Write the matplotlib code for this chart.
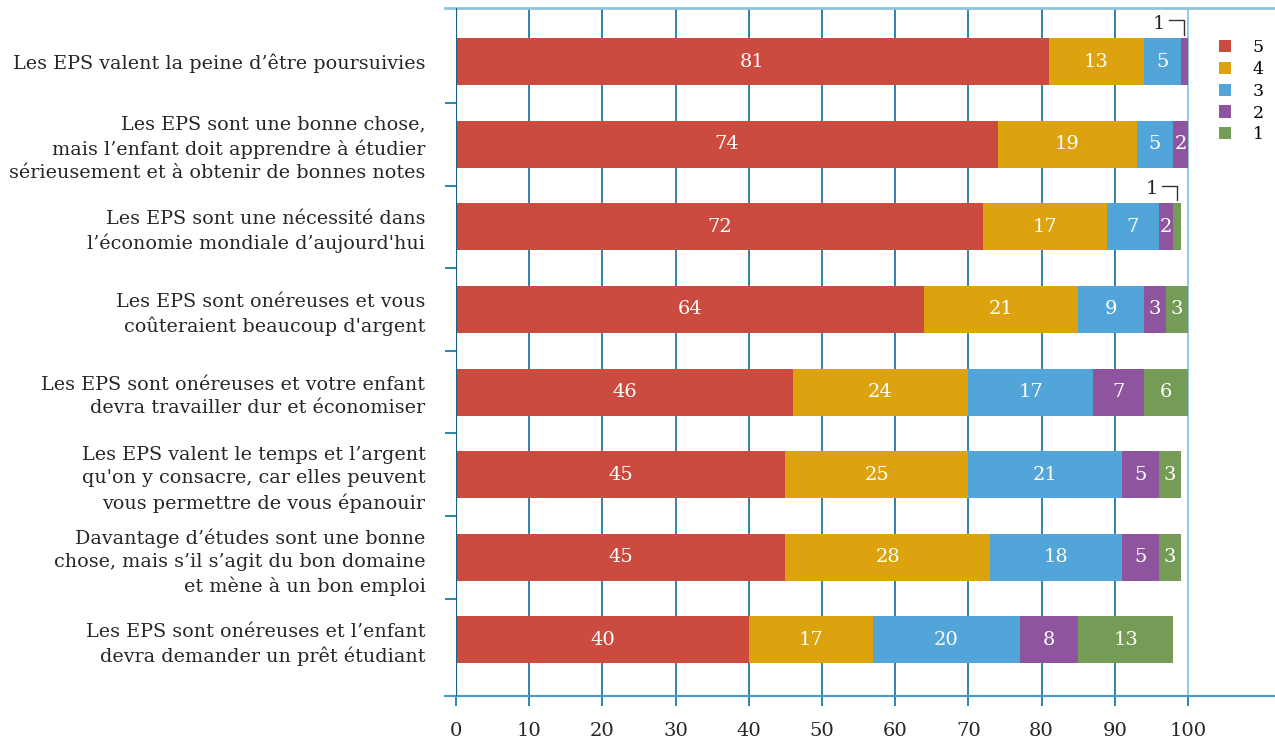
import matplotlib
matplotlib.use("Agg")
import matplotlib.pyplot as plt
import numpy as np

categories = [
    "Les EPS valent la peine d’être poursuivies",
    "Les EPS sont une bonne chose,\nmais l’enfant doit apprendre à étudier\nsérieusement et à obtenir de bonnes notes",
    "Les EPS sont une nécessité dans\nl’économie mondiale d’aujourd'hui",
    "Les EPS sont onéreuses et vous\ncoûteraient beaucoup d'argent",
    "Les EPS sont onéreuses et votre enfant\ndevra travailler dur et économiser",
    "Les EPS valent le temps et l’argent\nqu'on y consacre, car elles peuvent\nvous permettre de vous épanouir",
    "Davantage d’études sont une bonne\nchose, mais s’il s’agit du bon domaine\net mène à un bon emploi",
    "Les EPS sont onéreuses et l’enfant\ndevra demander un prêt étudiant",
]
series_names = ["5", "4", "3", "2", "1"]
s5 = [81, 74, 72, 64, 46, 45, 45, 40]
s4 = [13, 19, 17, 21, 24, 25, 28, 17]
s3 = [5, 5, 7, 9, 17, 21, 18, 20]
s2 = [1, 2, 2, 3, 7, 5, 5, 8]
s1 = [0, 0, 1, 3, 6, 3, 3, 13]
xticks = [0, 10, 20, 30, 40, 50, 60, 70, 80, 90, 100]

colors = ["#CC4B3F", "#DCA30F", "#52A5D8", "#8E559E", "#759C57"]
dark = "#1F78A8"
light = "#8CC4DC"
FONT = "DejaVu Serif"
plt.rcParams["font.family"] = FONT
TXT = "#262626"

fig = plt.figure(figsize=(12.75, 7.44), dpi=100)
ax = fig.add_axes([456/1275, 1-696/744, 1-456/1275, (696-8)/744])

data = [s5, s4, s3, s2, s1]
y = np.arange(len(categories))
left = np.zeros(len(categories))
for vals, col, name in zip(data, colors, series_names):
    vals = np.array(vals, dtype=float)
    ax.barh(y, vals, left=left, height=0.57, color=col, label=name, zorder=3)
    for yi, (l, v) in enumerate(zip(left, vals)):
        if v >= 2:
            ax.text(l + v/2, yi, f"{int(v)}", ha="center", va="center",
                    color="white", fontsize=14, zorder=4)
        elif v == 1:
            xe = l + v/2
            ax.plot([xe - 2.1, xe, xe], [yi - 0.50, yi - 0.50, yi - 0.32],
                    color="#333333", lw=1.0, zorder=4, clip_on=False)
            ax.text(xe - 2.6, yi - 0.46, "1", ha="right", va="center",
                    color=TXT, fontsize=14, zorder=4)
    left += vals

ax.set_xlim(0, 111.9)
ax.set_ylim(7.68, -0.65)

for s in ax.spines.values():
    s.set_visible(False)

for xv in xticks:
    c = light if xv == 100 else dark
    ax.axvline(xv, color=c, lw=1.3, zorder=2)
ax.set_xticks(xticks)
ax.set_xticklabels([str(v) for v in xticks], fontsize=14, color=TXT)
ax.tick_params(axis="x", length=7.5, width=1.3, color=dark, pad=11)
ticklines = ax.xaxis.get_majorticklines()
ticklines[-2].set_color(light)

ax.plot([-1.5, 111.9], [-0.65, -0.65], color=light, lw=2, clip_on=False, zorder=5)
ax.plot([-1.5, 111.9], [7.68, 7.68], color="#4C9CC8", lw=1.6, clip_on=False, zorder=5)
ax.axvline(0, color="#1A5F8A", lw=1.6, zorder=5)

ax.set_yticks(np.arange(len(categories) - 1) + 0.5, minor=True)
ax.tick_params(axis="y", which="minor", length=8, width=1.3, color=dark)
ax.set_yticks(y)
ax.set_yticklabels(categories, fontsize=13.8, color=TXT, linespacing=1.36)
ax.tick_params(axis="y", which="major", length=0, pad=22)

leg = ax.legend(loc="upper left", bbox_to_anchor=(0.9125, 0.977), frameon=False,
                fontsize=12.5, handlelength=0.7, handleheight=0.7, handletextpad=1.25,
                labelspacing=0.27)

fig.savefig("out.png", dpi=100)
